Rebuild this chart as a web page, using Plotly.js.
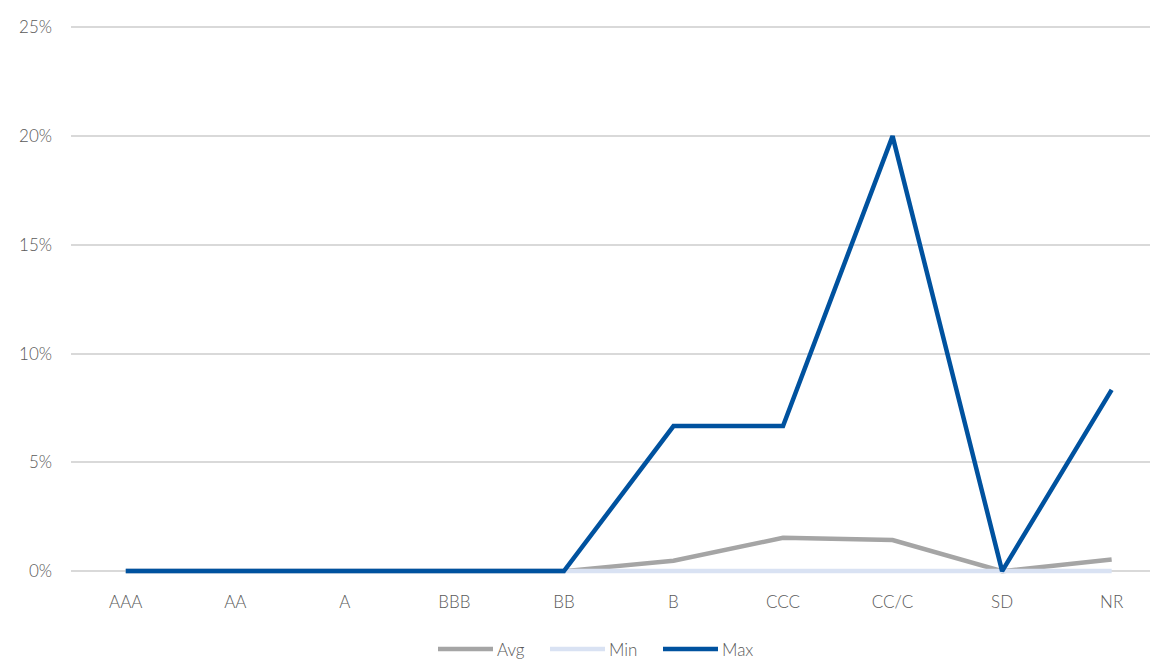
<!DOCTYPE html>
<html>
<head>
<meta charset="utf-8">
<script src="https://cdn.plot.ly/plotly-3.0.1.min.js"></script>
<style>
  html, body { margin: 0; padding: 0; background: #ffffff; }
  #chart { width: 1154px; height: 660px; }
</style>
</head>
<body>
<div id="chart"></div>
<script>
// Rating categories on the x axis
const ratings = ['AAA', 'AA', 'A', 'BBB', 'BB', 'B', 'CCC', 'CC/C', 'SD', 'NR'];

// Rates per rating category (fractions)
const avgValues = [0, 0, 0, 0, 0, 0.0048, 0.0153, 0.0143, 0, 0.0053];
const minValues = [0, 0, 0, 0, 0, 0, 0, 0, 0, 0];
const maxValues = [0, 0, 0, 0, 0, 0.0667, 0.0667, 0.20, 0, 0.0833];

const seriesNames = ['Avg', 'Min', 'Max'];
const seriesColors = ['#a5a5a5', '#d9e2f3', '#00529f'];
const seriesValues = [avgValues, minValues, maxValues];

// Y axis ticks
const yTicks = [0, 0.05, 0.10, 0.15, 0.20, 0.25];
const yTickLabels = ['0%', '5%', '10%', '15%', '20%', '25%'];

const W = 1154, H = 660;
const margin = { l: 71, r: 4, t: 23, b: 78 };
const plotW = W - margin.l - margin.r;
const plotH = H - margin.t - margin.b;
const fontFamily = 'Lato, "Open Sans", sans-serif';
const textColor = '#595959';
const baseFont = { family: fontFamily, size: 17, color: textColor, weight: 300 };

const traces = seriesNames.map((name, i) => ({
  type: 'scatter',
  mode: 'lines',
  name: name,
  x: ratings,
  y: seriesValues[i],
  line: { color: seriesColors[i], width: 4.5 },
  hoverinfo: 'x+y+name',
  showlegend: false
}));

// Legend drawn as line swatches plus labels, centred under the plot
const px2x = (px) => (px - margin.l) / plotW;
const px2y = (py) => (H - margin.b - py) / plotH;
const legendStarts = [438, 550, 663];
const legendY = 649;
const swatchLen = 55;

const shapes = [];
const annotations = [];
seriesNames.forEach((name, i) => {
  shapes.push({
    type: 'line', xref: 'paper', yref: 'paper',
    x0: px2x(legendStarts[i]), x1: px2x(legendStarts[i] + swatchLen),
    y0: px2y(legendY), y1: px2y(legendY),
    line: { color: seriesColors[i], width: 4.5 }
  });
  annotations.push({
    xref: 'paper', yref: 'paper',
    x: px2x(legendStarts[i] + swatchLen + 2), y: px2y(legendY),
    xanchor: 'left', yanchor: 'middle',
    text: name, showarrow: false,
    font: baseFont
  });
});

const layout = {
  width: W,
  height: H,
  margin: margin,
  paper_bgcolor: '#ffffff',
  plot_bgcolor: '#ffffff',
  showlegend: false,
  font: baseFont,
  xaxis: {
    type: 'category',
    range: [-0.5, 9.35],
    showgrid: false,
    zeroline: false,
    showline: false,
    ticks: '',
    tickfont: baseFont,
    ticklabelstandoff: 8,
    fixedrange: true
  },
  yaxis: {
    range: [-0.005, 0.252],
    tickvals: yTicks,
    ticktext: yTickLabels,
    showgrid: true,
    gridcolor: '#d9d9d9',
    gridwidth: 1.5,
    zeroline: false,
    showline: false,
    ticks: '',
    ticklabelstandoff: 18,
    tickfont: baseFont,
    fixedrange: true
  },
  shapes: shapes,
  annotations: annotations
};

Plotly.newPlot('chart', traces, layout, { displayModeBar: false });
</script>
</body>
</html>
